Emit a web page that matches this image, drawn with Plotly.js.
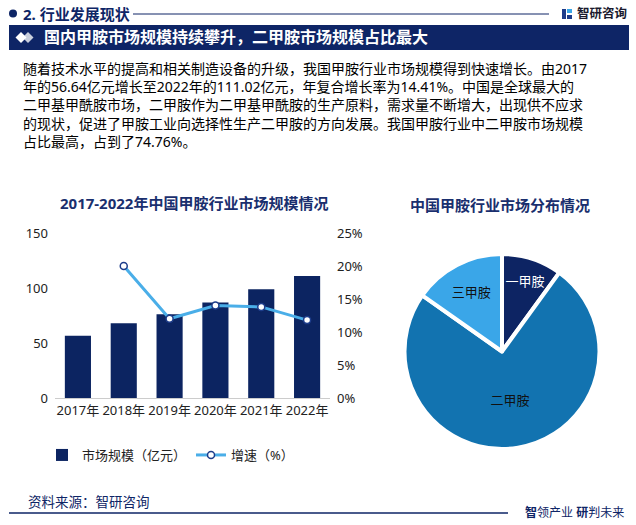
<!DOCTYPE html>
<html>
<head>
<meta charset="utf-8">
<script src="https://cdn.plot.ly/plotly-3.0.1.min.js"></script>
<style>
html,body{margin:0;padding:0;background:#fff;}
#chart{width:636px;height:525px;}
</style>
</head>
<body>
<div id="chart"></div>
<script>
// ---- data ----
const years = ["2017年","2018年","2019年","2020年","2021年","2022年"];
const marketSize = [56.64, 67.97, 76.12, 86.78, 98.75, 111.02];
const growthRate = [null, 20.0, 12.0, 14.0, 13.8, 11.8];
const pieLabels = ["一甲胺","二甲胺","三甲胺"];
const pieShares = [10.0, 74.76, 15.24];
const barName = "市场规模（亿元）";
const lineName = "增速（%）";
const sectionTitle = "2. 行业发展现状";
const bannerTitle = "国内甲胺市场规模持续攀升，二甲胺市场规模占比最大";
const leftTitle = "2017-2022年中国甲胺行业市场规模情况";
const rightTitle = "中国甲胺行业市场分布情况";
const paragraphLines = [
  "随着技术水平的提高和相关制造设备的升级，我国甲胺行业市场规模得到快速增长。由2017",
  "年的56.64亿元增长至2022年的111.02亿元，年复合增长率为14.41%。中国是全球最大的",
  "二甲基甲酰胺市场，二甲胺作为二甲基甲酰胺的生产原料，需求量不断增大，出现供不应求",
  "的现状，促进了甲胺工业向选择性生产二甲胺的方向发展。我国甲胺行业中二甲胺市场规模",
  "占比最高，占到了74.76%。"
];
const sourceText = "资料来源：智研咨询";
const brandText = "智研咨询";
const sloganText = "<b>智</b>领产业 <b>研</b>判未来";

// ---- helpers ----
const W = 636, H = 525;
const px = x => x / W;
const py = y => 1 - y / H;
const NAVY = "#0e2566";
const FONT = "Noto Sans, Noto Sans CJK SC, sans-serif";

const traces = [
  {
    type: "bar", x: years, y: marketSize, name: barName,
    marker: {color: "#0c2461"}, width: 0.57,
    xaxis: "x", yaxis: "y", hoverinfo: "skip"
  },
  {
    type: "scatter", mode: "lines+markers", x: years, y: growthRate, name: lineName,
    line: {color: "#4aaee8", width: 3},
    marker: {symbol: "circle", size: 7, color: "#ffffff", line: {color: "#1d3c8a", width: 1.5}},
    xaxis: "x", yaxis: "y2", connectgaps: false, hoverinfo: "skip"
  },
  {
    type: "pie", labels: pieLabels, values: pieShares,
    sort: false, direction: "clockwise", rotation: 0,
    marker: {colors: ["#0d2463", "#1273b0", "#3aa6e8"], line: {color: "#ffffff", width: 4}},
    textinfo: "label", textposition: "inside", insidetextorientation: "horizontal",
    insidetextfont: {color: ["#ffffff", "#111111", "#111111"], size: 13, family: FONT},
    domain: {x: [px(404), px(600)], y: [py(449), py(254)]},
    showlegend: false, hoverinfo: "skip"
  }
];

const annotations = [
  {text: "<b>" + sectionTitle + "</b>", x: px(21), y: py(14), xref: "paper", yref: "paper",
   xanchor: "left", yanchor: "middle", showarrow: false, font: {size: 15, color: NAVY, family: FONT}},
  {text: "<b>" + brandText + "</b>", x: px(575), y: py(14), xref: "paper", yref: "paper",
   xanchor: "left", yanchor: "middle", showarrow: false, font: {size: 12.5, color: "#1a1a2e", family: FONT}},
  {text: "<b>" + bannerTitle + "</b>", x: px(42), y: py(37.5), xref: "paper", yref: "paper",
   xanchor: "left", yanchor: "middle", showarrow: false, font: {size: 16, color: "#ffffff", family: FONT}},
  {text: paragraphLines.join("<br>"), x: px(21), y: py(57), xref: "paper", yref: "paper",
   xanchor: "left", yanchor: "top", align: "left", showarrow: false,
   font: {size: 14, color: "#000000", family: FONT}},
  {text: "<b>" + leftTitle + "</b>", x: px(194), y: py(203), xref: "paper", yref: "paper",
   xanchor: "center", yanchor: "middle", showarrow: false, font: {size: 15, color: "#1a2f6e", family: FONT}},
  {text: "<b>" + rightTitle + "</b>", x: px(500), y: py(205), xref: "paper", yref: "paper",
   xanchor: "center", yanchor: "middle", showarrow: false, font: {size: 15, color: "#1a2f6e", family: FONT}},
  {text: sourceText, x: px(26), y: py(502), xref: "paper", yref: "paper",
   xanchor: "left", yanchor: "middle", showarrow: false, font: {size: 13.5, color: NAVY, family: FONT}},
  {text: sloganText, x: px(523), y: py(512), xref: "paper", yref: "paper",
   xanchor: "left", yanchor: "middle", showarrow: false, font: {size: 12, color: NAVY, family: FONT}}
];

function diamond(cx, cy, hw, hh) {
  return `M ${px(cx - hw)} ${py(cy)} L ${px(cx)} ${py(cy - hh)} L ${px(cx + hw)} ${py(cy)} L ${px(cx)} ${py(cy + hh)} Z`;
}

const shapes = [
  {type: "circle", xref: "paper", yref: "paper", x0: px(9), x1: px(17), y0: py(17.5), y1: py(9.5),
   fillcolor: NAVY, line: {width: 0}},
  {type: "line", xref: "paper", yref: "paper", x0: px(133), x1: px(549), y0: py(14), y1: py(14),
   line: {color: NAVY, width: 1}},
  // logo icon
  {type: "rect", xref: "paper", yref: "paper", x0: px(562), x1: px(566), y0: py(19), y1: py(9),
   fillcolor: "#1d3c8a", line: {width: 0}},
  {type: "rect", xref: "paper", yref: "paper", x0: px(567), x1: px(572), y0: py(13), y1: py(9),
   fillcolor: "#3aa6e8", line: {width: 0}},
  {type: "rect", xref: "paper", yref: "paper", x0: px(567), x1: px(572), y0: py(19), y1: py(15),
   fillcolor: "#1d3c8a", line: {width: 0}},
  // banner
  {type: "rect", xref: "paper", yref: "paper", x0: px(9), x1: px(629), y0: py(50), y1: py(25),
   fillcolor: NAVY, line: {width: 0}},
  {type: "path", xref: "paper", yref: "paper", path: diamond(28, 37.5, 5.5, 5.5),
   fillcolor: "#c9cfdd", line: {width: 0}},
  {type: "path", xref: "paper", yref: "paper", path: diamond(21, 37.5, 5.5, 5.5),
   fillcolor: "#ffffff", line: {width: 0}},
  // footer line
  {type: "line", xref: "paper", yref: "paper", x0: px(9), x1: px(508), y0: py(513), y1: py(513),
   line: {color: NAVY, width: 1.5}}
];

const layout = {
  width: W, height: H,
  margin: {l: 0, r: 0, t: 0, b: 0},
  paper_bgcolor: "#ffffff", plot_bgcolor: "rgba(0,0,0,0)",
  font: {family: FONT, size: 13, color: "#222222"},
  showlegend: true,
  legend: {orientation: "h", x: px(42), y: py(455), xanchor: "left", yanchor: "middle",
           font: {size: 13, color: "#222222", family: FONT}, itemwidth: 30, tracegroupgap: 0,
           bgcolor: "rgba(0,0,0,0)"},
  bargap: 0.43,
  xaxis: {domain: [px(55), px(330)], type: "category", showgrid: false, zeroline: false,
          showline: true, linecolor: "#cccccc", linewidth: 1, ticks: "",
          tickfont: {size: 13, color: "#222222"}, fixedrange: true},
  yaxis: {domain: [py(398), py(233)], range: [0, 150], dtick: 50, showgrid: false,
          zeroline: false, showline: false, ticks: "", tickfont: {size: 13, color: "#222222"},
          ticklabelstandoff: 6, fixedrange: true},
  yaxis2: {overlaying: "y", side: "right", range: [0, 25], dtick: 5, ticksuffix: "%",
           showgrid: false, zeroline: false, showline: false, ticks: "",
           tickfont: {size: 13, color: "#222222"}, ticklabelstandoff: 6, fixedrange: true},
  annotations: annotations,
  shapes: shapes
};

Plotly.newPlot("chart", traces, layout, {displayModeBar: false, staticPlot: true});
</script>
</body>
</html>
